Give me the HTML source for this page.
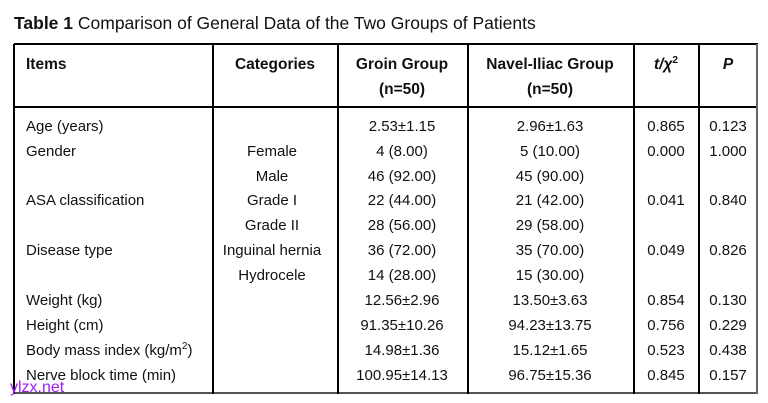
<!DOCTYPE html>
<html><head><meta charset="utf-8"><style>
body{margin:0;width:768px;height:403px;background:#fff;position:relative;overflow:hidden;font-family:"Liberation Sans",sans-serif;color:#111}
.t{position:absolute;font-size:15px;white-space:nowrap;line-height:16px;margin-top:1px}
.c{transform:translateX(-50%)}
.b{font-weight:bold;font-size:15.5px}
sup{font-size:10px;line-height:0;vertical-align:6px}
.v{position:absolute;top:44px;height:350px;width:2px;background:#000}
.h{position:absolute;left:14px;width:744px;height:2px;background:#000}
</style></head><body>
<div class="t" style="left:14px;top:12px;font-size:17.5px;line-height:20px"><b>Table 1</b> Comparison of General Data of the Two Groups of Patients</div>
<div class="h" style="top:43px"></div>
<div class="h" style="top:106px"></div>
<div class="h" style="top:392px;background:#555"></div>
<div class="v" style="left:13px"></div>
<div class="v" style="left:212px"></div>
<div class="v" style="left:337px"></div>
<div class="v" style="left:467px"></div>
<div class="v" style="left:633px"></div>
<div class="v" style="left:698px"></div>
<div class="v" style="left:756px;background:#666"></div>
<div class="t b" style="left:26px;top:56px">Items</div>
<div class="t b c" style="left:275px;top:56px">Categories</div>
<div class="t b c" style="left:402px;top:56px">Groin Group</div>
<div class="t b c" style="left:402px;top:81px">(n=50)</div>
<div class="t b c" style="left:550px;top:56px">Navel-Iliac Group</div>
<div class="t b c" style="left:550px;top:81px">(n=50)</div>
<div class="t b c" style="left:666px;top:56px"><i>t/χ</i><sup>2</sup></div>
<div class="t b c" style="left:728px;top:56px"><i>P</i></div>

<div class="t" style="left:26px;top:118px">Age (years)</div>
<div class="t c" style="left:402px;top:118px">2.53±1.15</div>
<div class="t c" style="left:550px;top:118px">2.96±1.63</div>
<div class="t c" style="left:666px;top:118px">0.865</div>
<div class="t c" style="left:728px;top:118px">0.123</div>

<div class="t" style="left:26px;top:143px">Gender</div>
<div class="t c" style="left:272px;top:143px">Female</div>
<div class="t c" style="left:402px;top:143px">4 (8.00)</div>
<div class="t c" style="left:550px;top:143px">5 (10.00)</div>
<div class="t c" style="left:666px;top:143px">0.000</div>
<div class="t c" style="left:728px;top:143px">1.000</div>

<div class="t c" style="left:272px;top:168px">Male</div>
<div class="t c" style="left:402px;top:168px">46 (92.00)</div>
<div class="t c" style="left:550px;top:168px">45 (90.00)</div>

<div class="t" style="left:26px;top:192px">ASA classification</div>
<div class="t c" style="left:272px;top:192px">Grade I</div>
<div class="t c" style="left:402px;top:192px">22 (44.00)</div>
<div class="t c" style="left:550px;top:192px">21 (42.00)</div>
<div class="t c" style="left:666px;top:192px">0.041</div>
<div class="t c" style="left:728px;top:192px">0.840</div>

<div class="t c" style="left:272px;top:217px">Grade II</div>
<div class="t c" style="left:402px;top:217px">28 (56.00)</div>
<div class="t c" style="left:550px;top:217px">29 (58.00)</div>

<div class="t" style="left:26px;top:242px">Disease type</div>
<div class="t c" style="left:272px;top:242px">Inguinal hernia</div>
<div class="t c" style="left:402px;top:242px">36 (72.00)</div>
<div class="t c" style="left:550px;top:242px">35 (70.00)</div>
<div class="t c" style="left:666px;top:242px">0.049</div>
<div class="t c" style="left:728px;top:242px">0.826</div>

<div class="t c" style="left:272px;top:267px">Hydrocele</div>
<div class="t c" style="left:402px;top:267px">14 (28.00)</div>
<div class="t c" style="left:550px;top:267px">15 (30.00)</div>

<div class="t" style="left:26px;top:292px">Weight (kg)</div>
<div class="t c" style="left:402px;top:292px">12.56±2.96</div>
<div class="t c" style="left:550px;top:292px">13.50±3.63</div>
<div class="t c" style="left:666px;top:292px">0.854</div>
<div class="t c" style="left:728px;top:292px">0.130</div>

<div class="t" style="left:26px;top:317px">Height (cm)</div>
<div class="t c" style="left:402px;top:317px">91.35±10.26</div>
<div class="t c" style="left:550px;top:317px">94.23±13.75</div>
<div class="t c" style="left:666px;top:317px">0.756</div>
<div class="t c" style="left:728px;top:317px">0.229</div>

<div class="t" style="left:26px;top:342px">Body mass index (kg/m<sup>2</sup>)</div>
<div class="t c" style="left:402px;top:342px">14.98±1.36</div>
<div class="t c" style="left:550px;top:342px">15.12±1.65</div>
<div class="t c" style="left:666px;top:342px">0.523</div>
<div class="t c" style="left:728px;top:342px">0.438</div>

<div class="t" style="left:26px;top:367px">Nerve block time (min)</div>
<div class="t c" style="left:402px;top:367px">100.95±14.13</div>
<div class="t c" style="left:550px;top:367px">96.75±15.36</div>
<div class="t c" style="left:666px;top:367px">0.845</div>
<div class="t c" style="left:728px;top:367px">0.157</div>

<div class="t" style="left:10px;top:378px;color:#a020f0;font-size:16px;line-height:18px">ylzx.net</div>
</body></html>
